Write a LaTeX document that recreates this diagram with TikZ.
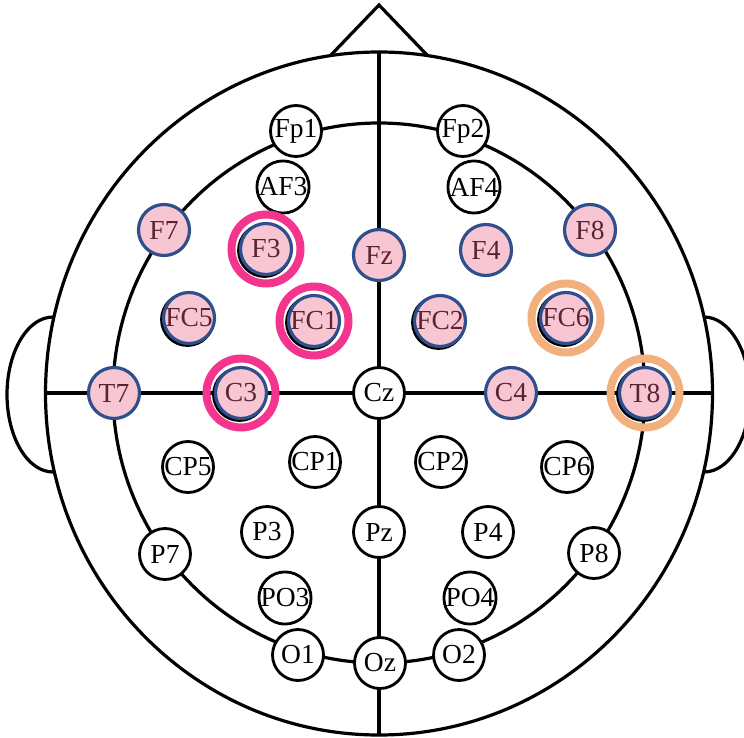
\documentclass[tikz,border=0pt]{standalone}
\usepackage{fontspec}
\setmainfont{Liberation Serif}
\usetikzlibrary{calc}
\definecolor{elecfill}{HTML}{F8C6D3}
\definecolor{elecblue}{HTML}{2E4F8C}
\definecolor{electext}{HTML}{5A2232}
\definecolor{ringpink}{HTML}{F4358E}
\definecolor{ringorange}{HTML}{F2B07E}
\begin{document}
\begin{tikzpicture}[x=1pt,y=-1pt,
  outline/.style={line width=3.2pt, draw=black},
  elec/.style={circle, draw=black, fill=white, line width=2.8pt, minimum size=51pt, inner sep=0pt, font=\fontsize{27.5}{27.5}\selectfont},
  active/.style={elec, draw=elecblue, fill=elecfill, text=electext, line width=3.2pt},
  shadowring/.style={draw=black, line width=2.8pt},
  selpink/.style={draw=ringpink, line width=8pt},
  selorange/.style={draw=ringorange, line width=8pt}]
\useasboundingbox (0,0) rectangle (744,738);
\clip (0,0) rectangle (744,738);
% head outline
\draw[outline] (379,393.5) ellipse [x radius=333.5, y radius=341.5];
\draw[outline] (379,393) ellipse [x radius=266, y radius=270];
\draw[outline, line join=miter] (331,55) -- (379,5) -- (427,55);
\draw[outline] (53,317) arc[start angle=270, end angle=90, x radius=46, y radius=77.5];
\draw[outline] (704,317) arc[start angle=-90, end angle=90, x radius=46, y radius=77.5];
\draw[outline] (379,52) -- (379,735);
\draw[outline] (45,393) -- (712,393);
% positions
\coordinate (pFp1) at (296,131);
\coordinate (pFp2) at (463,131);
\coordinate (pAF3) at (283,187);
\coordinate (pAF4) at (474,187);
\coordinate (pF7) at (164,230);
\coordinate (pF3) at (266,249);
\coordinate (pFz) at (379,255);
\coordinate (pF4) at (486,250);
\coordinate (pF8) at (590,230);
\coordinate (pFC5) at (189,318);
\coordinate (pFC1) at (314,321);
\coordinate (pFC2) at (440,321);
\coordinate (pFC6) at (566,318);
\coordinate (pT7) at (114,393);
\coordinate (pC3) at (241,393);
\coordinate (pCz) at (379,393);
\coordinate (pC4) at (511,393);
\coordinate (pT8) at (645,393);
\coordinate (pCP5) at (188,467);
\coordinate (pCP1) at (315,462);
\coordinate (pCP2) at (441,462);
\coordinate (pCP6) at (567,467);
\coordinate (pP7) at (165,554);
\coordinate (pP3) at (267,532);
\coordinate (pPz) at (379,532);
\coordinate (pP4) at (488,532);
\coordinate (pP8) at (594,553);
\coordinate (pPO3) at (285,598);
\coordinate (pPO4) at (470,598);
\coordinate (pO1) at (298,655);
\coordinate (pOz) at (380,663);
\coordinate (pO2) at (459,655);
% shadows
\foreach \e in {F3,FC1,FC5,FC2,C3,FC6,T8}
  \draw[shadowring] ($(p\e)+(-1.5,1.5)$) circle (26);
% electrodes
\foreach \e in {Fp1,Fp2,AF3,AF4,Cz,CP5,CP1,CP2,CP6,P7,P3,Pz,P4,P8,PO3,PO4,O1,Oz,O2}
  \node[elec] (\e) at (p\e) {\e};
\foreach \e in {F7,F3,Fz,F4,F8,FC5,FC1,FC2,FC6,T7,C3,C4,T8}
  \node[active] (\e) at (p\e) {\e};
% selection rings
\draw[selpink] (F3) circle (34.5);
\draw[selpink] (FC1) circle (34.5);
\draw[selpink] (C3) circle (34.5);
\draw[selorange] (FC6) circle (34.5);
\draw[selorange] (T8) circle (34.5);
\end{tikzpicture}
\end{document}
